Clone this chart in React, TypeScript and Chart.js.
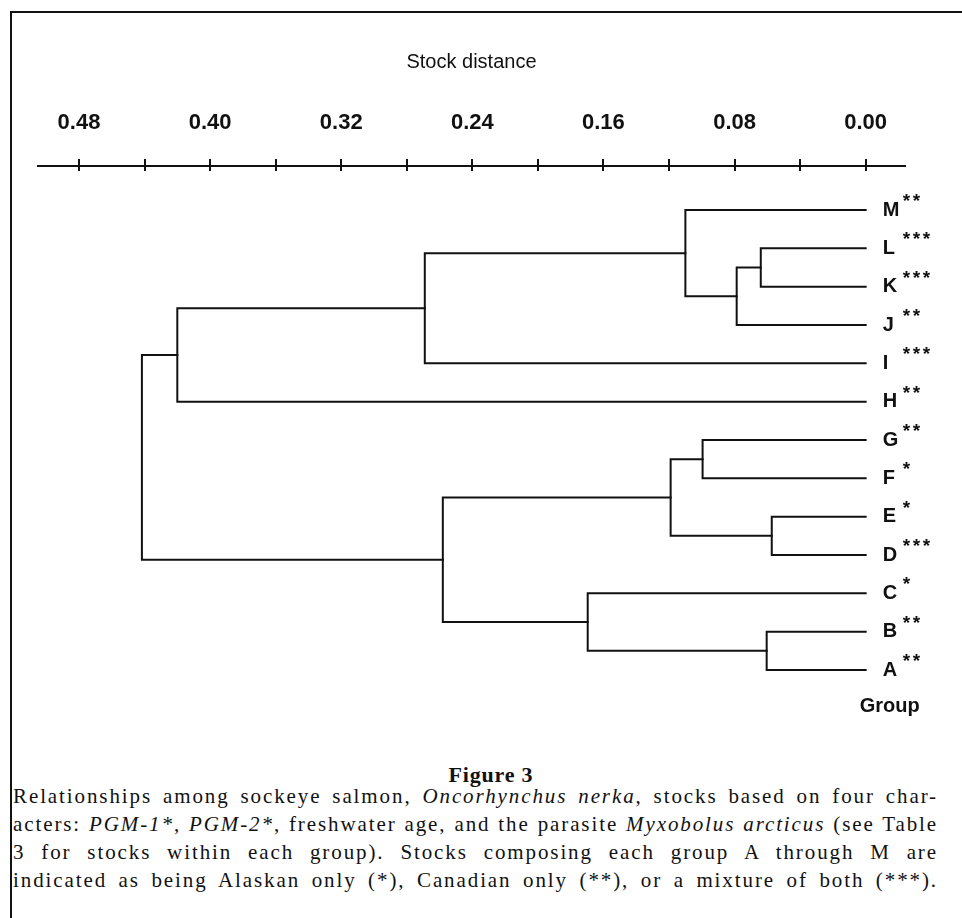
import React, { useEffect, useRef } from 'react';
import { Chart, registerables } from 'chart.js';

Chart.register(...registerables);

// Leaves, top to bottom
const LEAVES = ['M', 'L', 'K', 'J', 'I', 'H', 'G', 'F', 'E', 'D', 'C', 'B', 'A'];
const STARS = ['**', '***', '***', '**', '***', '**', '**', '*', '*', '***', '*', '**', '**'];

// Merges (cluster joins): children are leaf letters or 'n<index>' of an earlier merge
const MERGE_LEFT = ['L', 'n0', 'M', 'n2', 'n3', 'G', 'E', 'n5', 'B', 'C', 'n7', 'n4'];
const MERGE_RIGHT = ['K', 'J', 'n1', 'I', 'H', 'F', 'D', 'n6', 'A', 'n8', 'n9', 'n10'];
const MERGE_DIST = [0.064, 0.0787, 0.110, 0.269, 0.420, 0.0995, 0.0573, 0.119, 0.0604, 0.1696, 0.258, 0.4416];

// Axis
const TICK_VALUES = [0, 0.04, 0.08, 0.12, 0.16, 0.2, 0.24, 0.28, 0.32, 0.36, 0.4, 0.44, 0.48];
const TICK_LABELS = ['0.00', '', '0.08', '', '0.16', '', '0.24', '', '0.32', '', '0.40', '', '0.48'];
const AXIS_TITLE = 'Stock distance';
const GROUP_LABEL = 'Group';

const SANS = '"Liberation Sans", Arial, Helvetica, sans-serif';
const SERIF = '"Liberation Serif", "Times New Roman", serif';
const INK = '#111';

type NodePos = { x: number; y: number };

function resolve(id: string, cache: Record<string, NodePos>): NodePos {
  if (cache[id]) return cache[id];
  let p: NodePos;
  if (id.startsWith('n')) {
    const i = parseInt(id.slice(1), 10);
    const l = resolve(MERGE_LEFT[i], cache);
    const r = resolve(MERGE_RIGHT[i], cache);
    p = { x: MERGE_DIST[i], y: (l.y + r.y) / 2 };
  } else {
    const idx = LEAVES.indexOf(id);
    p = { x: 0, y: LEAVES.length - 1 - idx };
  }
  cache[id] = p;
  return p;
}

function buildDatasets() {
  const cache: Record<string, NodePos> = {};
  return MERGE_DIST.map((d, i) => {
    const l = resolve(MERGE_LEFT[i], cache);
    const r = resolve(MERGE_RIGHT[i], cache);
    return {
      data: [
        { x: l.x, y: l.y },
        { x: d, y: l.y },
        { x: d, y: r.y },
        { x: r.x, y: r.y },
      ],
      borderColor: INK,
      borderWidth: 2,
      pointRadius: 0,
      tension: 0,
      fill: false,
      borderCapStyle: 'square' as const,
      borderJoinStyle: 'miter' as const,
    };
  });
}

const labelsPlugin = {
  id: 'dendroLabels',
  afterDraw(chart: any) {
    const { ctx, scales } = chart;
    const xs = scales.x;
    const ys = scales.y;
    ctx.save();
    // crossing tick marks
    ctx.strokeStyle = INK;
    ctx.lineWidth = 2;
    const top = chart.chartArea.top;
    TICK_VALUES.forEach((v) => {
      const px = Math.round(xs.getPixelForValue(v));
      ctx.beginPath();
      ctx.moveTo(px, top - 7);
      ctx.lineTo(px, top + 5);
      ctx.stroke();
    });
    // leaf labels
    const lx = xs.getPixelForValue(0) + 17;
    ctx.fillStyle = INK;
    LEAVES.forEach((name, i) => {
      const py = ys.getPixelForValue(LEAVES.length - 1 - i);
      ctx.font = `bold 20px ${SANS}`;
      ctx.textAlign = 'left';
      ctx.textBaseline = 'middle';
      ctx.fillText(name, lx, py);
      ctx.font = `bold 19px ${SANS}`;
      ctx.textBaseline = 'alphabetic';
      const s = STARS[i];
      for (let k = 0; k < s.length; k++) {
        ctx.fillText(s[k], lx + 20 + k * 10, py - 3);
      }
    });
    // Group label
    const ga = ys.getPixelForValue(0);
    ctx.font = `bold 20px ${SANS}`;
    ctx.textAlign = 'center';
    ctx.textBaseline = 'alphabetic';
    ctx.fillText(GROUP_LABEL, lx + 7, ga + 42);
    ctx.restore();
  },
};

function DendroChart() {
  const ref = useRef<HTMLCanvasElement | null>(null);
  useEffect(() => {
    if (!ref.current) return;
    const chart = new Chart(ref.current, {
      type: 'line',
      data: { datasets: buildDatasets() as any },
      options: {
        animation: false,
        responsive: false,
        maintainAspectRatio: false,
        devicePixelRatio: 1,
        layout: { padding: { left: 38, right: 57, top: 10, bottom: 12 } },
        plugins: {
          legend: { display: false },
          tooltip: { enabled: false },
          title: { display: false },
        },
        scales: {
          x: {
            type: 'linear',
            position: 'top',
            reverse: true,
            min: -0.024,
            max: 0.505,
            afterBuildTicks: (s: any) => {
              s.ticks = TICK_VALUES.map((v) => ({ value: v }));
            },
            afterFit: (s: any) => {
              s.height = 156;
            },
            ticks: {
              autoSkip: false,
              maxRotation: 0,
              minRotation: 0,
              padding: 24,
              color: INK,
              font: { family: SANS, size: 22, weight: 'bold' },
              callback: (v: any) => {
                const i = TICK_VALUES.findIndex((t) => Math.abs(t - Number(v)) < 1e-9);
                return i >= 0 ? TICK_LABELS[i] : '';
              },
            },
            grid: {
              drawOnChartArea: false,
              drawTicks: true,
              tickLength: 6,
              color: INK,
              lineWidth: 2,
            },
            border: { display: true, color: INK, width: 2 },
            title: {
              display: true,
              text: AXIS_TITLE,
              color: INK,
              font: { family: SANS, size: 20, weight: 'normal' },
              padding: { top: 40, bottom: 0 },
            },
          },
          y: {
            type: 'linear',
            display: false,
            min: -1.252,
            max: 13.148,
          },
        },
      },
      plugins: [labelsPlugin],
    });
    return () => chart.destroy();
  }, []);
  return (
    <canvas
      ref={ref}
      width={962}
      height={730}
      style={{ position: 'absolute', left: 0, top: 0, width: 962, height: 730, display: 'block' }}
    />
  );
}

const lineStyle: React.CSSProperties = {
  textAlign: 'justify',
  textAlignLast: 'justify' as any,
  whiteSpace: 'nowrap',
  letterSpacing: '1.9px',
};

export default function App() {
  return (
    <div style={{ position: 'absolute', left: 0, top: 0, width: 962, height: 918, background: '#fff', overflow: 'hidden' }}>
      {/* frame */}
      <div style={{ position: 'absolute', left: 10, top: 11, width: 952, height: 2, background: INK }} />
      <div style={{ position: 'absolute', left: 10, top: 11, width: 2, height: 907, background: INK }} />
      <DendroChart />
      <div
        style={{
          position: 'absolute',
          left: 0,
          width: 962,
          top: 763,
          textAlign: 'center',
          fontFamily: SERIF,
          fontWeight: 'bold',
          fontSize: 22,
          lineHeight: '24px',
          color: INK,
          letterSpacing: '0.8px',
          paddingLeft: 20,
          boxSizing: 'border-box',
        }}
      >
        Figure 3
      </div>
      <div
        style={{
          position: 'absolute',
          left: 13,
          width: 925,
          top: 782,
          fontFamily: SERIF,
          fontSize: 21,
          lineHeight: '28px',
          color: INK,
        }}
      >
        <div style={lineStyle}>
          Relationships among sockeye salmon, <i>Oncorhynchus nerka</i>, stocks based on four char-
        </div>
        <div style={lineStyle}>
          acters: <i>PGM-1*</i>, <i>PGM-2*</i>, freshwater age, and the parasite <i>Myxobolus arcticus</i> (see Table
        </div>
        <div style={lineStyle}>
          3 for stocks within each group). Stocks composing each group A through M are
        </div>
        <div style={lineStyle}>
          indicated as being Alaskan only (*), Canadian only (**), or a mixture of both (***).
        </div>
      </div>
    </div>
  );
}
